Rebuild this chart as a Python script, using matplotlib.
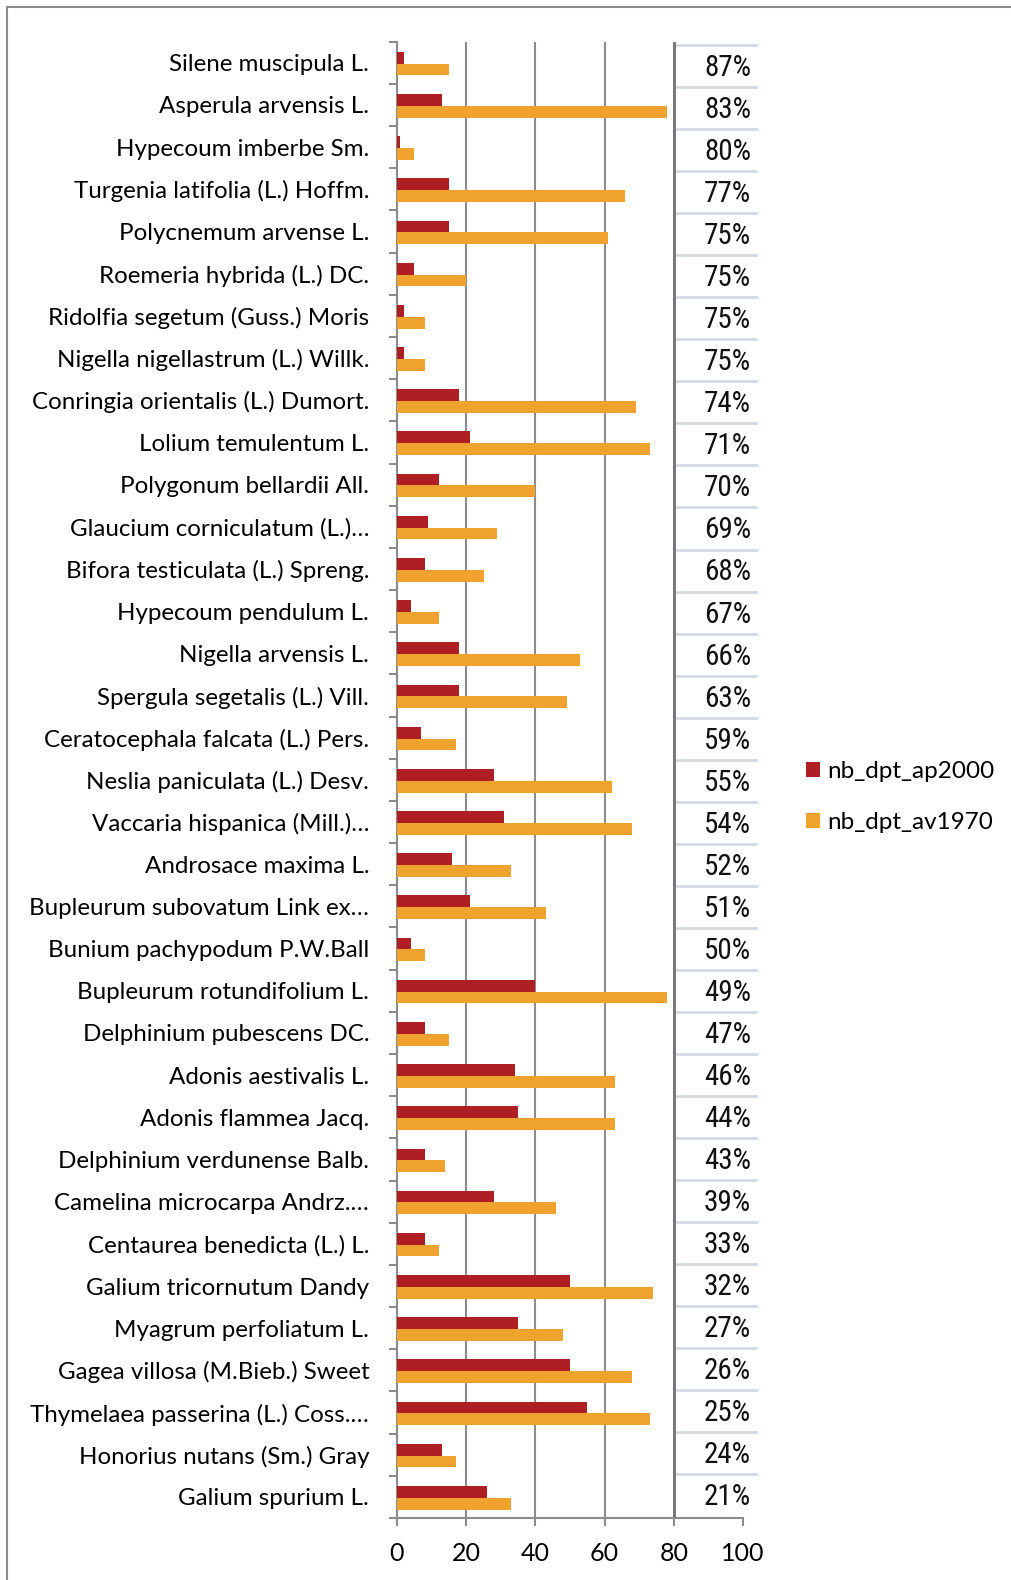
import matplotlib.pyplot as plt
from matplotlib.lines import Line2D

especes = [
    'Silene muscipula L.', 'Asperula arvensis L.', 'Hypecoum imberbe Sm.',
    'Turgenia latifolia (L.) Hoffm.', 'Polycnemum arvense L.',
    'Roemeria hybrida (L.) DC.', 'Ridolfia segetum (Guss.) Moris',
    'Nigella nigellastrum (L.) Willk.', 'Conringia orientalis (L.) Dumort.',
    'Lolium temulentum L.', 'Polygonum bellardii All.',
    'Glaucium corniculatum (L.)…', 'Bifora testiculata (L.) Spreng.',
    'Hypecoum pendulum L.', 'Nigella arvensis L.',
    'Spergula segetalis (L.) Vill.', 'Ceratocephala falcata (L.) Pers.',
    'Neslia paniculata (L.) Desv.', 'Vaccaria hispanica (Mill.)…',
    'Androsace maxima L.', 'Bupleurum subovatum Link ex…',
    'Bunium pachypodum P.W.Ball', 'Bupleurum rotundifolium L.',
    'Delphinium pubescens DC.', 'Adonis aestivalis L.', 'Adonis flammea Jacq.',
    'Delphinium verdunense Balb.', 'Camelina microcarpa Andrz.…',
    'Centaurea benedicta (L.) L.', 'Galium tricornutum Dandy',
    'Myagrum perfoliatum L.', 'Gagea villosa (M.Bieb.) Sweet',
    'Thymelaea passerina (L.) Coss.…', 'Honorius nutans (Sm.) Gray',
    'Galium spurium L.',
]
nb_dpt_ap2000 = [2, 13, 1, 15, 15, 5, 2, 2, 18, 21, 12, 9, 8, 4, 18, 18, 7, 28,
                 31, 16, 21, 4, 40, 8, 34, 35, 8, 28, 8, 50, 35, 50, 55, 13, 26]
nb_dpt_av1970 = [15, 78, 5, 66, 61, 20, 8, 8, 69, 73, 40, 29, 25, 12, 53, 49, 17,
                 62, 68, 33, 43, 8, 78, 15, 63, 63, 14, 46, 12, 74, 48, 68, 73,
                 17, 33]
pct_perte = [87, 83, 80, 77, 75, 75, 75, 75, 74, 71, 70, 69, 68, 67, 66, 63, 59,
             55, 54, 52, 51, 50, 49, 47, 46, 44, 43, 39, 33, 32, 27, 26, 25, 24,
             21]

ROUGE = '#ae1f23'
ORANGE = '#f0a22f'
GRIS = '#8c8c8c'

plt.rcParams['font.family'] = ['Lato', 'DejaVu Sans']

W, H = 1012, 1580
fig = plt.figure(figsize=(W / 100, H / 100), dpi=100)
ax = fig.add_axes([397 / W, 1 - 1518 / H, 346 / W, (1518 - 41.7) / H])

n = len(especes)
y = list(range(n))
h = 0.28
ax.barh([i - 0.12 for i in y], nb_dpt_ap2000, height=h, color=ROUGE,
        label='nb_dpt_ap2000', zorder=3)
ax.barh([i + 0.16 for i in y], nb_dpt_av1970, height=h, color=ORANGE,
        label='nb_dpt_av1970', zorder=3)

ax.set_xlim(0, 100)
ax.set_ylim(n - 0.5, -0.5)

# quadrillage vertical, la ligne 80 plus marquee
for gx in (20, 40, 60):
    ax.axvline(gx, color=GRIS, lw=1.5, zorder=1)
ax.axvline(80, color='#7a7a7a', lw=2.2, zorder=1)

for s in ('top', 'right'):
    ax.spines[s].set_visible(False)
for s in ('left', 'bottom'):
    ax.spines[s].set_color(GRIS)
    ax.spines[s].set_linewidth(1.5)

ax.set_xticks([0, 20, 40, 60, 80, 100])
ax.tick_params(axis='x', length=6, width=1.5, color=GRIS, labelsize=18, pad=11)

# graduations entre les categories, noms au centre
ax.set_yticks([i - 0.5 for i in range(n + 1)])
ax.set_yticklabels([])
ax.tick_params(axis='y', which='major', length=6, width=1.5, color=GRIS)
ax.set_yticks(y, minor=True)
ax.set_yticklabels(especes, minor=True)
ax.tick_params(axis='y', which='minor', length=0, labelsize=17.4, pad=20)

# colonne des pourcentages (lignes un peu plus serrees que le graphique)
for k in range(n):
    yk = k - 0.5 + 0.08 - 0.115 * k / (n - 1)
    ax.plot([80.9, 103.8], [yk, yk], color='#d3dae5', lw=2,
            clip_on=False, zorder=2)
for i, p in enumerate(pct_perte):
    ax.text(102.3, i + 0.13 * (1 - i / (n - 1)), f'{p}%', ha='right',
            va='center', fontsize=21, fontstretch='condensed', color='#111111',
            family=['Roboto Condensed', 'Liberation Sans Narrow', 'DejaVu Sans'],
            clip_on=False)

fig.legend(loc='center left', bbox_to_anchor=(806 / W, 1 - 797 / H),
           frameon=False, fontsize=17.5, handlelength=0.58, handleheight=0.58,
           handletextpad=0.3, labelspacing=1.25, borderpad=0, borderaxespad=0)

# cadre
fig.add_artist(Line2D([7 / W, 7 / W], [0, 1 - 7 / H], color=GRIS, lw=1.5))
fig.add_artist(Line2D([7 / W, 1], [1 - 7 / H, 1 - 7 / H], color=GRIS, lw=1.5))

fig.savefig('out.png', dpi=100)
